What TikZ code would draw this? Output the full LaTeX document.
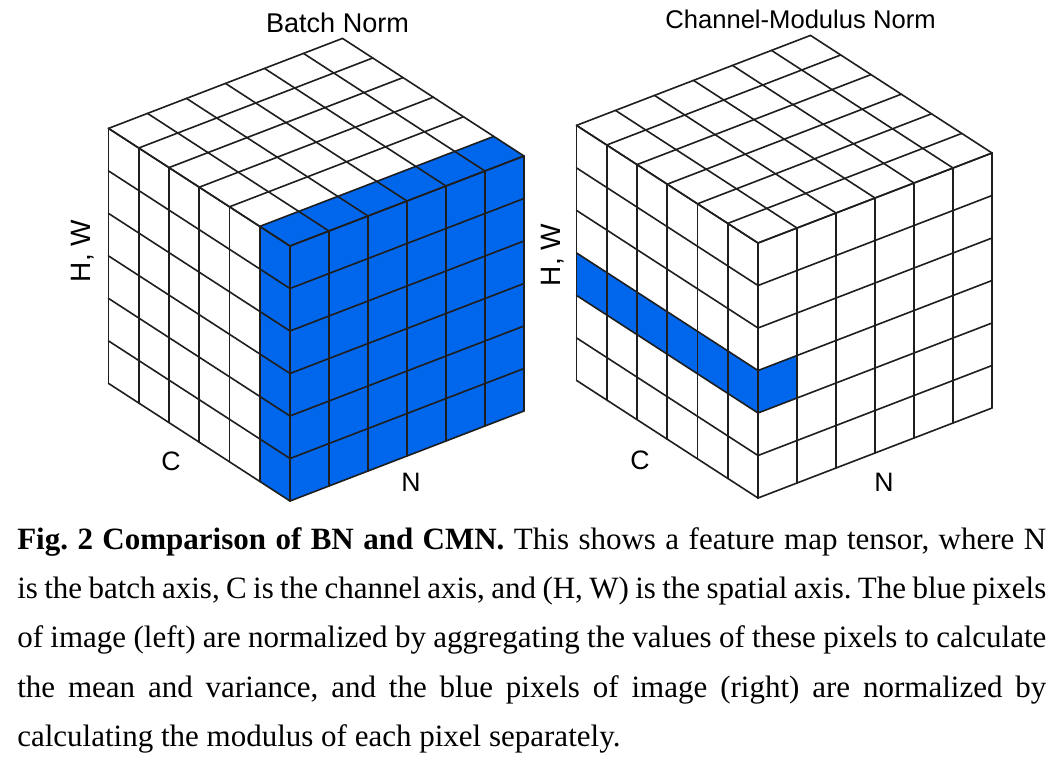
\documentclass[tikz,border=0pt]{standalone}
\usepackage{fontspec}
\setmainfont{Liberation Serif}
\newfontfamily\labelfont{Liberation Sans}
\definecolor{cubeblue}{RGB}{0,102,235}
\definecolor{gridline}{RGB}{30,30,30}
\frenchspacing
\begin{document}
\begin{tikzpicture}[x=0.75pt,y=-0.75pt,
  grid/.style={line width=1.2pt, draw=gridline, line cap=round, line join=round},
  bluecell/.style={fill=cubeblue},
  axislabel/.style={font=\labelfont\fontsize{20}{22}\selectfont, inner sep=0pt},
  titlelabel/.style={inner sep=0pt, anchor=base},
  captiontext/.style={font=\fontsize{23.25}{37.1}\selectfont, inner sep=0pt, anchor=base west, align=left}]
\useasboundingbox (0,0) rectangle (1062,764);
\fill[white] (0,0) rectangle (1062,764);

% lattice points of both cubes: i = C (back), j = N (right), k = H,W (down)
\foreach \cube/\fx/\fy in {L/290/246, R/758/243}{
  \foreach \i in {0,...,6}{
    \foreach \j in {0,...,6}{
      \foreach \k in {0,...,6}{
        \coordinate (\cube-\i-\j-\k) at ({\fx-\i*30.25+\j*39},{\fy-\i*19.6-\j*15+\k*42.5});
      }}}}

% blue cells, left cube (front C slice)
\fill[bluecell] (L-0-0-0) -- (L-0-6-0) -- (L-0-6-6) -- (L-0-0-6) -- cycle;
\fill[bluecell] (L-0-0-0) -- (L-1-0-0) -- (L-1-0-6) -- (L-0-0-6) -- cycle;
\fill[bluecell] (L-0-0-0) -- (L-1-0-0) -- (L-1-6-0) -- (L-0-6-0) -- cycle;

% blue cells, right cube (one pixel over all channels)
\fill[bluecell] (R-0-0-3) -- (R-6-0-3) -- (R-6-0-4) -- (R-0-0-4) -- cycle;
\fill[bluecell] (R-0-0-3) -- (R-0-1-3) -- (R-0-1-4) -- (R-0-0-4) -- cycle;

% grid lines
\foreach \cube in {L,R}{
  \foreach \m in {0,...,6}{
    \draw[grid] (\cube-0-0-\m) -- (\cube-6-0-\m);
    \draw[grid] (\cube-\m-0-0) -- (\cube-\m-0-6);
    \draw[grid] (\cube-0-0-\m) -- (\cube-0-6-\m);
    \draw[grid] (\cube-0-\m-0) -- (\cube-0-\m-6);
    \draw[grid] (\cube-\m-0-0) -- (\cube-\m-6-0);
    \draw[grid] (\cube-0-\m-0) -- (\cube-6-\m-0);
  }}

% titles and axis labels
\node[titlelabel, font=\labelfont\fontsize{20.3}{22}\selectfont] (bntitle) at (337.5,32) {Batch Norm};
\node[titlelabel, font=\labelfont\fontsize{19.2}{22}\selectfont] (cmntitle) at (800.5,28) {Channel-Modulus Norm};
\node[axislabel, rotate=90, font=\labelfont\fontsize{21}{22}\selectfont] (lhw) at (83,251) {H, W};
\node[axislabel, rotate=90, font=\labelfont\fontsize{21}{22}\selectfont] (rhw) at (553,255) {H, W};
\node[axislabel] (lc) at (171,461) {C};
\node[axislabel] (rc) at (640,460) {C};
\node[axislabel] (ln) at (411,482) {N};
\node[axislabel] (rn) at (884,482) {N};

% caption
\node[captiontext] (caption) at (17,549) {\parbox[t]{771.75pt}{\hyphenpenalty=10000\parindent=0pt%
\textbf{Fig. 2 Comparison of BN and CMN.} This shows a feature map tensor, where N\linebreak
is the batch axis, C is the channel axis, and (H, W) is the spatial axis. The blue pixels\linebreak
of image (left) are normalized by aggregating the values of these pixels to calculate\linebreak
the mean and variance, and the blue pixels of image (right) are normalized by\linebreak
calculating the modulus of each pixel separately.}};
\end{tikzpicture}
\end{document}
